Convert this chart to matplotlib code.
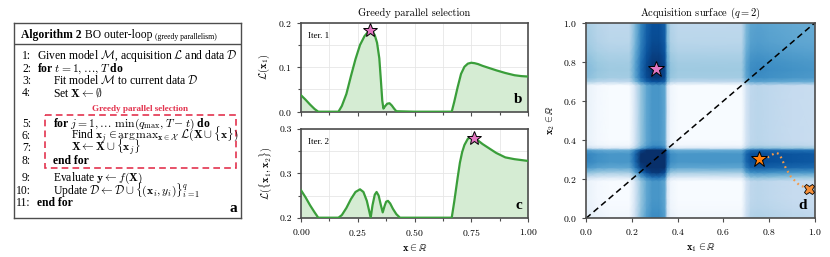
import matplotlib
matplotlib.use('Agg')
import matplotlib.pyplot as plt
import matplotlib.patches as patches
import numpy as np
from matplotlib.ticker import MultipleLocator, FixedLocator, FixedFormatter

plt.rcParams['font.family'] = 'serif'
plt.rcParams['font.serif'] = ['cmr10', 'DejaVu Serif']
plt.rcParams['mathtext.fontset'] = 'cm'
plt.rcParams['axes.formatter.use_mathtext'] = True
plt.rcParams['axes.unicode_minus'] = False

# ---- data ----
# panel b: first greedy pick, L(x1)
b_x = [0.00, 0.02, 0.04, 0.06, 0.076, 0.10, 0.14, 0.165, 0.18, 0.20, 0.22, 0.24, 0.26, 0.28,
       0.295, 0.305, 0.315, 0.325, 0.335, 0.345, 0.352, 0.358, 0.363, 0.37, 0.38, 0.39, 0.40,
       0.41, 0.42, 0.50, 0.60, 0.664, 0.675, 0.69, 0.705, 0.72, 0.735, 0.75, 0.765, 0.78,
       0.80, 0.83, 0.86, 0.90, 0.94, 0.97, 1.00]
b_y = [0.037, 0.027, 0.016, 0.006, 0.000, 0.000, 0.000, 0.000, 0.013, 0.040, 0.080, 0.118,
       0.150, 0.170, 0.179, 0.182, 0.180, 0.172, 0.155, 0.120, 0.070, 0.025, 0.007, 0.012,
       0.018, 0.019, 0.014, 0.007, 0.001, 0.000, 0.000, 0.000, 0.022, 0.055, 0.085, 0.101,
       0.108, 0.110, 0.109, 0.107, 0.103, 0.098, 0.093, 0.087, 0.082, 0.080, 0.079]

# panel c: second greedy pick, L({x1, x2})
c_x = [0.00, 0.02, 0.04, 0.06, 0.076, 0.10, 0.14, 0.165, 0.18, 0.20, 0.22, 0.24, 0.26, 0.275,
       0.29, 0.30, 0.307, 0.315, 0.325, 0.333, 0.342, 0.352, 0.36, 0.368, 0.375, 0.383, 0.393,
       0.405, 0.42, 0.436, 0.50, 0.60, 0.664, 0.675, 0.69, 0.70, 0.71, 0.72, 0.735, 0.75,
       0.765, 0.78, 0.80, 0.83, 0.86, 0.90, 0.94, 0.97, 1.00]
c_y = [0.231, 0.223, 0.214, 0.206, 0.200, 0.200, 0.200, 0.200, 0.203, 0.211, 0.221, 0.229,
       0.232, 0.229, 0.219, 0.208, 0.200, 0.214, 0.226, 0.229, 0.225, 0.214, 0.206, 0.213,
       0.218, 0.219, 0.216, 0.210, 0.204, 0.200, 0.200, 0.200, 0.200, 0.218, 0.245, 0.262,
       0.274, 0.282, 0.289, 0.291, 0.290, 0.287, 0.283, 0.278, 0.273, 0.268, 0.266, 0.265,
       0.264]

# selected points
pick1 = (0.306, 0.183)
pick2 = (0.762, 0.290)

# panel d: acquisition surface profiles along each axis
surf_x1 = [0.00, 0.05, 0.10, 0.19, 0.215, 0.24, 0.265, 0.29, 0.32, 0.345, 0.355, 0.37, 0.40,
           0.68, 0.70, 0.72, 0.75, 0.80, 0.90, 1.00]
surf_h1 = [0.10, 0.03, 0.00, 0.00, 0.25, 0.55, 0.75, 0.85, 0.85, 0.75, 0.25, 0.05, 0.00,
           0.00, 0.25, 0.38, 0.40, 0.38, 0.35, 0.33]
surf_x2 = [0.00, 0.05, 0.10, 0.19, 0.21, 0.235, 0.26, 0.29, 0.33, 0.35, 0.36, 0.375, 0.40,
           0.68, 0.70, 0.72, 0.76, 0.80, 0.85, 0.90, 1.00]
surf_h2 = [0.06, 0.02, 0.00, 0.00, 0.20, 0.50, 0.75, 0.85, 0.85, 0.70, 0.20, 0.04, 0.00,
           0.00, 0.38, 0.50, 0.52, 0.50, 0.45, 0.41, 0.38]

diag = [0.0, 1.0]
star_pink = (0.306, 0.762)
star_orange = (0.757, 0.303)
start_x = (0.972, 0.152)
path_x = [0.972, 0.932, 0.895, 0.873, 0.859, 0.850, 0.844, 0.833, 0.822, 0.805, 0.786, 0.757]
path_y = [0.152, 0.169, 0.212, 0.255, 0.293, 0.315, 0.328, 0.334, 0.331, 0.320, 0.306, 0.303]

green = '#3a9e3a'
fill_green = '#d5ecd3'
pink = '#e377c2'
orange = '#ff7f0e'
red = '#e3344f'
spine_c = '#4d4d4d'

W, H = 830, 257
fig = plt.figure(figsize=(W / 100, H / 100), dpi=100)


def frac(left, top, right, bottom):
    return [left / W, 1 - bottom / H, (right - left) / W, (bottom - top) / H]


def style_axes(ax):
    for s in ax.spines.values():
        s.set_color(spine_c)
        s.set_linewidth(1.2)
    ax.tick_params(which='both', direction='out', color=spine_c, labelsize=7, width=0.8)
    ax.tick_params(which='major', length=3)
    ax.tick_params(which='minor', length=2)


# ==================== a: algorithm box ====================
axa = fig.add_axes(frac(14, 22.7, 241, 218))
axa.set_xlim(0, 227)
axa.set_ylim(195.3, 0)
axa.set_xticks([])
axa.set_yticks([])
for s in axa.spines.values():
    s.set_color(spine_c)
    s.set_linewidth(1.0)
axa.plot([0, 227], [21.3, 21.3], color=spine_c, lw=1.0)

times = 'Liberation Serif'
fs = 8.4
h1 = axa.text(6.5, 15.5, 'Algorithm 2', fontsize=fs, fontweight='bold', family=times,
              va='baseline')
h2 = axa.annotate('BO outer-loop', xy=(1, 0), xycoords=h1, xytext=(2.5, 0),
                  textcoords='offset points', fontsize=fs, family=times, va='bottom')
axa.annotate('(greedy parallelism)', xy=(1, 0), xycoords=h2, xytext=(2, 0.3),
             textcoords='offset points', fontsize=5.5, family=times, va='bottom')

lines = [
    ('1:', 0, r'Given model $\mathcal{M}$, acquisition $\mathcal{L}$ and data $\mathcal{D}$', 36.6, 'normal'),
    ('2:', 0, r'for $t = 1, \ldots, T$ do', 49, 'bold'),
    ('3:', 1, r'Fit model $\mathcal{M}$ to current data $\mathcal{D}$', 61.3, 'normal'),
    ('4:', 1, r'Set $\mathbf{X} \leftarrow \emptyset$', 73.5, 'normal'),
    ('5:', 1, r'for $j = 1, \ldots\ \min(q_{\max}, T - t)$ do', 104, 'bold'),
    ('6:', 2, r'Find $\mathbf{x}_j \in \mathrm{arg\,max}_{\mathbf{x}\in\mathcal{X}}\ '
              r'\mathcal{L}(\mathbf{X} \cup \{\mathbf{x}\})$', 116, 'normal'),
    ('7:', 2, r'$\mathbf{X} \leftarrow \mathbf{X} \cup \{\mathbf{x}_j\}$', 128.2, 'normal'),
    ('8:', 1, 'end for', 141, 'bold'),
    ('9:', 1, r'Evaluate $\mathbf{y} \leftarrow f(\mathbf{X})$', 158.5, 'normal'),
    ('10:', 1, r'Update $\mathcal{D} \leftarrow \mathcal{D} \cup \{(\mathbf{x}_i, y_i)\}_{i=1}^{q}$', 171.5, 'normal'),
    ('11:', 0, 'end for', 183.5, 'bold'),
]
indent = [22.5, 39, 56.5]
for num, lvl, txt, yb, wt in lines:
    axa.text(17, yb, num, fontsize=fs, family=times, ha='right', va='baseline')
    axa.text(indent[lvl], yb, txt, fontsize=fs, family=times, fontweight=wt,
             ha='left', va='baseline')

axa.text(126, 88.5, 'Greedy parallel selection', fontsize=6.6, fontweight='bold',
         family=times, color=red, ha='center', va='baseline')
axa.add_patch(patches.Rectangle((31, 92.3), 191, 53, fill=False, edgecolor=red,
                                lw=1.2, ls=(0, (4, 2.5))))
axa.text(223, 189, 'a', fontsize=11, fontweight='bold', family=times, ha='right', va='baseline')

# ==================== b / c: greedy selection ====================
axb = fig.add_axes(frac(301, 22.7, 528, 111.7))
axc = fig.add_axes(frac(301, 129, 528, 217.7))

axb.plot(b_x, b_y, color=green, lw=1.6, zorder=3)
axb.fill_between(b_x, 0, b_y, color=fill_green, lw=0, zorder=2)
axb.plot(*pick1, marker='*', ms=10, mfc=pink, mec='black', mew=0.7, zorder=5, clip_on=False)
axb.set_xlim(0, 1)
axb.set_ylim(0, 0.2)
axb.yaxis.set_major_locator(MultipleLocator(0.1))
axb.yaxis.set_minor_locator(MultipleLocator(0.05))
axb.set_ylabel(r'$\mathcal{L}(\mathbf{x}_1)$', fontsize=7.5, labelpad=4)
axb.set_title('Greedy parallel selection', fontsize=7.5, pad=5)
axb.text(0.03, 0.9, 'Iter. 1', transform=axb.transAxes, fontsize=6.5, va='top', family=times)
axb.text(0.975, 0.06, 'b', transform=axb.transAxes, fontsize=11, fontweight='bold',
         family=times, ha='right', va='bottom')
axb.tick_params(labelbottom=False)

axc.plot(c_x, c_y, color=green, lw=1.6, zorder=3)
axc.fill_between(c_x, 0.2, c_y, color=fill_green, lw=0, zorder=2)
axc.plot(*pick2, marker='*', ms=10, mfc=pink, mec='black', mew=0.7, zorder=5, clip_on=False)
axc.set_xlim(0, 1)
axc.set_ylim(0.2, 0.3)
axc.yaxis.set_major_locator(FixedLocator([0.2, 0.25, 0.3]))
axc.yaxis.set_major_formatter(FixedFormatter(['0.2', '0.3', '0.3']))
axc.yaxis.set_minor_locator(FixedLocator([0.225, 0.275]))
axc.set_ylabel(r'$\mathcal{L}(\{\mathbf{x}_1, \mathbf{x}_2\})$', fontsize=7.5, labelpad=4)
axc.set_xlabel(r'$\mathbf{x} \in \mathbb{R}$', fontsize=7.5, labelpad=3)
axc.text(0.03, 0.9, 'Iter. 2', transform=axc.transAxes, fontsize=6.5, va='top', family=times)
axc.text(0.975, 0.06, 'c', transform=axc.transAxes, fontsize=11, fontweight='bold',
         family=times, ha='right', va='bottom')

for ax in (axb, axc):
    ax.xaxis.set_major_locator(MultipleLocator(0.25))
    ax.xaxis.set_minor_locator(MultipleLocator(0.125))
    ax.grid(True, which='both', color='#e6e6e6', lw=0.6, zorder=0)
    ax.set_axisbelow(True)
    style_axes(ax)

# ==================== d: acquisition surface ====================
axd = fig.add_axes(frac(586, 22.7, 815, 218.3))
X1, X2 = np.meshgrid(surf_x1, surf_x2)
Z = np.add.outer(np.array(surf_h2), np.array(surf_h1))
axd.pcolormesh(X1, X2, Z, cmap='Blues', vmin=0, vmax=1.4, shading='gouraud', rasterized=True)
axd.plot(diag, diag, color='black', lw=1.1, ls=(0, (4, 2.5)))
axd.plot(path_x, path_y, color='#f39a4a', lw=1.6, ls=(0, (0.8, 1.6)), zorder=4)
axd.plot(*star_pink, marker='*', ms=12, mfc=pink, mec='black', mew=0.7, zorder=5)
axd.plot(*star_orange, marker='*', ms=12, mfc=orange, mec='black', mew=0.7, zorder=5)
axd.plot(*start_x, marker='X', ms=7.5, mfc='#f5903a', mec='black', mew=0.6, zorder=5,
         clip_on=False)
axd.set_xlim(0, 1)
axd.set_ylim(0, 1)
axd.xaxis.set_major_locator(MultipleLocator(0.2))
axd.yaxis.set_major_locator(MultipleLocator(0.2))
axd.set_xlabel(r'$\mathbf{x}_1 \in \mathbb{R}$', fontsize=7.5, labelpad=3)
axd.set_ylabel(r'$\mathbf{x}_2 \in \mathbb{R}$', fontsize=7.5, labelpad=4)
axd.set_title(r'Acquisition surface ($q = 2$)', fontsize=7.5, pad=5)
axd.text(0.965, 0.03, 'd', transform=axd.transAxes, fontsize=11, fontweight='bold',
         family=times, ha='right', va='bottom')
style_axes(axd)

fig.savefig('out.png', dpi=100, facecolor='white')
